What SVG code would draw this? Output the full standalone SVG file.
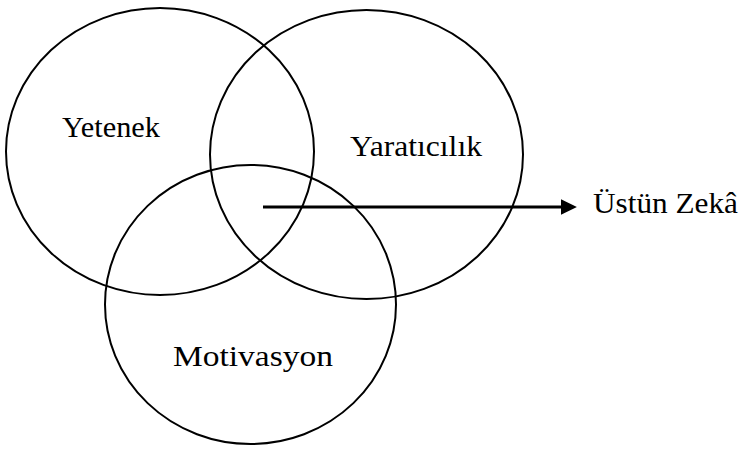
<svg xmlns="http://www.w3.org/2000/svg" width="744" height="449" viewBox="0 0 744 449">
<style>
.c{fill:none;stroke:#000;stroke-width:2}
.t{font-family:"Liberation Serif","Times New Roman",serif;font-size:30px;fill:#000}
</style>
<defs>
<marker id="ah" markerWidth="6" markerHeight="6" refX="0" refY="3" orient="auto" markerUnits="strokeWidth">
<path d="M0,0.4 L5.3,3 L0,5.6 Z" fill="#000"/>
</marker>
</defs>
<rect width="744" height="449" fill="#fff"/>
<g id="yetenek">
<ellipse class="c" cx="160" cy="151.5" rx="154" ry="143.5"/>
<text class="t" x="62" y="137" textLength="98" lengthAdjust="spacingAndGlyphs">Yetenek</text>
</g>
<g id="yaraticilik">
<ellipse class="c" cx="366.5" cy="154.5" rx="156.5" ry="144.5"/>
<text class="t" x="350" y="156" textLength="132" lengthAdjust="spacingAndGlyphs">Yaratıcılık</text>
</g>
<g id="motivasyon">
<ellipse class="c" cx="250.5" cy="304.5" rx="145.5" ry="139.5"/>
<text class="t" x="173" y="366" textLength="160" lengthAdjust="spacingAndGlyphs">Motivasyon</text>
</g>
<g id="ustun-zeka">
<text class="t" x="593" y="213" textLength="145" lengthAdjust="spacingAndGlyphs">Üstün Zekâ</text>
</g>
<g id="connectors">
<line x1="263" y1="207" x2="561" y2="207" stroke="#000" stroke-width="3" marker-end="url(#ah)"/>
</g>
</svg>
